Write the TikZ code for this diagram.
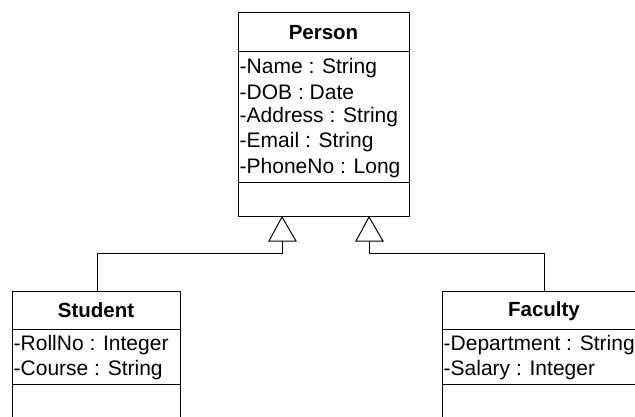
\documentclass[tikz,border=0pt]{standalone}
\usepackage{fontspec}
\setmainfont{Liberation Sans}
\begin{document}
\begin{tikzpicture}[x=1pt,y=-1pt,
  line/.style={line width=1pt,draw=black},
  classbox/.style={line, rectangle, inner sep=0pt, fill=white},
  hdr/.style={font=\fontsize{20.5}{24}\selectfont\bfseries, inner sep=0pt},
  attr/.style={font=\fontsize{21}{24}\selectfont, inner sep=0pt, anchor=west}]
\useasboundingbox (0,0) rectangle (635,417);
\clip (0,0) rectangle (635,417);
% Person
\node[classbox, minimum width=171pt, minimum height=204pt] (person) at (323.5,115) {};
\draw[line] (238,52) -- (409,52);
\draw[line] (238,183) -- (409,183);
\node[hdr] (pname) at (323.5,32.5) {Person};
\node[attr] (p1) at (239.5,68) {-Name : String};
\node[attr] (p2) at (239.5,92.5) {-DOB : Date};
\node[attr] (p3) at (239.5,117.5) {-Address : String};
\node[attr] (p4) at (239.5,142.5) {-Email : String};
\node[attr] (p5) at (239.5,168) {-PhoneNo : Long};
% Student
\node[classbox, minimum width=168pt, minimum height=160pt, anchor=north west] (student) at (12,291) {};
\draw[line] (12,329.5) -- (180,329.5);
\draw[line] (12,384) -- (180,384);
\node[hdr] (sname) at (96,310.5) {Student};
\node[attr] (s1) at (13.5,345) {-RollNo : Integer};
\node[attr] (s2) at (13.5,370) {-Course : String};
% Faculty
\node[classbox, minimum width=230pt, minimum height=160pt, anchor=north west] (faculty) at (442,291) {};
\draw[line] (442,329.5) -- (672,329.5);
\draw[line] (442,384) -- (672,384);
\node[hdr] (fname) at (544,311.5) {Faculty};
\node[attr] (f1) at (443.5,345) {-Department : String};
\node[attr] (f2) at (443.5,370) {-Salary : Integer};
% generalization
\coordinate (t1a) at (282,217);
\coordinate (t1b) at (282,241);
\coordinate (t2a) at (369,217);
\coordinate (t2b) at (369,241);
\draw[line, line join=miter] (t1a) -- (269,241) -- (296,241) -- cycle;
\draw[line, line join=miter] (t2a) -- (356,241) -- (383,241) -- cycle;
\draw[line] (t1b) |- (97,253) -- (student.north -| 97,291);
\draw[line] (t2b) |- (544,253) -- (544,291);
\end{tikzpicture}
\end{document}
